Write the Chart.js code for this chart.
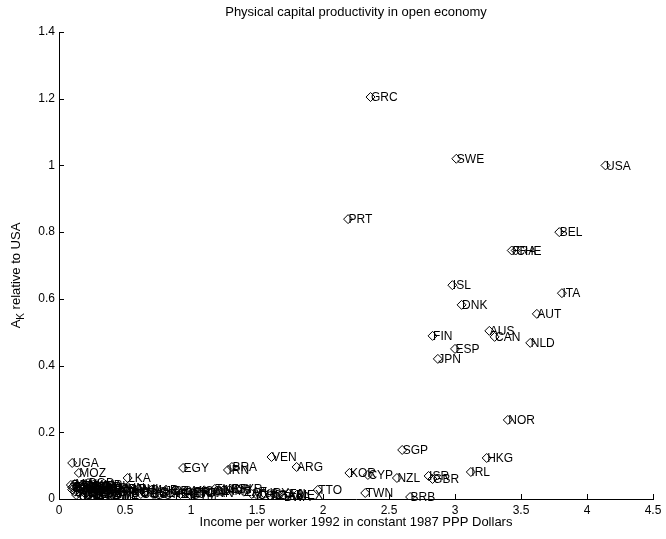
<!DOCTYPE html>
<html>
<head>
<meta charset="utf-8">
<script src="https://cdn.jsdelivr.net/npm/chart.js@4/dist/chart.umd.min.js"></script>
<style>
  html, body { margin: 0; padding: 0; background: #fff; }
  #wrap { width: 666px; height: 539px; }
</style>
</head>
<body>
<div id="wrap"><canvas id="c" width="666" height="539"></canvas></div>
<script>
// Country codes, income per worker (1992, thousands of 1987 PPP dollars scaled) and A_K relative to USA
const countries = [
  "USA","GRC","SWE","PRT","BEL","FRA","CHE","ITA","ISL","DNK",
  "AUT","AUS","CAN","NLD","FIN","ESP","JPN","NOR","SGP","HKG",
  "IRL","ISR","GBR","NZL","CYP","KOR","TWN","BRB","TTO","ARG",
  "VEN","BRA","IRN","EGY","UGA","MOZ","LKA",
  "ETH","BDI","TZA","MWI","BFA","MLI","NER","TCD","RWA","ZAR",
  "MDG","NPL","BGD","GMB","SLE","TGO","CAF","GNB","KEN","BEN",
  "MMR","HTI","NGA","GHA","LSO","IND","ZMB","PAK","SEN","CMR",
  "ZWE","CIV","CHN","GIN","PNG","IDN","BOL","HND","PHL","COG",
  "NIC","MAR","GUY","SLV","JOR","THA","DOM","ECU","PER","GTM",
  "PRY","TUN","COL","PAN","TUR","JAM","MUS","CRI","SYR","ZAF",
  "MYS","CHL","URY","DZA","GAB","BWA","FJI","MEX"
];
const income = [
  4.14, 2.36, 3.01, 2.19, 3.79, 3.43, 3.46, 3.81, 2.98, 3.05,
  3.62, 3.26, 3.30, 3.57, 2.83, 3.00, 2.87, 3.40, 2.60, 3.24,
  3.12, 2.80, 2.83, 2.56, 2.34, 2.20, 2.32, 2.66, 1.96, 1.80,
  1.61, 1.31, 1.28, 0.94, 0.10, 0.15, 0.52,
  0.10, 0.09, 0.10, 0.12, 0.12, 0.14, 0.15, 0.13, 0.17, 0.11,
  0.19, 0.17, 0.22, 0.21, 0.20, 0.19, 0.22, 0.18, 0.24, 0.23,
  0.26, 0.28, 0.27, 0.30, 0.29, 0.32, 0.31, 0.36, 0.35, 0.38,
  0.40, 0.42, 0.45, 0.43, 0.48, 0.50, 0.55, 0.56, 0.60, 0.62,
  0.66, 0.70, 0.72, 0.76, 0.80, 0.84, 0.87, 0.92, 0.95, 0.99,
  1.02, 1.06, 1.10, 1.14, 1.18, 1.22, 1.25, 1.30, 1.35, 1.40,
  1.46, 1.50, 1.55, 1.60, 1.66, 1.70, 1.74, 1.80
];
const productivity = [
  1.000, 1.205, 1.020, 0.839, 0.800, 0.745, 0.745, 0.617, 0.641, 0.582,
  0.555, 0.504, 0.486, 0.468, 0.489, 0.450, 0.420, 0.237, 0.147, 0.123,
  0.081, 0.069, 0.060, 0.063, 0.072, 0.078, 0.018, 0.006, 0.027, 0.096,
  0.126, 0.096, 0.087, 0.093, 0.108, 0.078, 0.063,
  0.035, 0.042, 0.028, 0.045, 0.022, 0.030, 0.018, 0.012, 0.040, 0.038,
  0.025, 0.033, 0.048, 0.020, 0.015, 0.041, 0.030, 0.010, 0.036, 0.022,
  0.043, 0.028, 0.016, 0.034, 0.012, 0.038, 0.023, 0.040, 0.020, 0.030,
  0.014, 0.027, 0.035, 0.010, 0.022, 0.031, 0.018, 0.028, 0.030, 0.015,
  0.022, 0.027, 0.012, 0.018, 0.024, 0.016, 0.025, 0.015, 0.020, 0.014,
  0.022, 0.018, 0.026, 0.020, 0.030, 0.024, 0.028, 0.031, 0.030, 0.022,
  0.015, 0.012, 0.018, 0.010, 0.014, 0.008, 0.016, 0.012
];
const xTicks = [0, 0.5, 1, 1.5, 2, 2.5, 3, 3.5, 4, 4.5];
const yTicks = [0, 0.2, 0.4, 0.6, 0.8, 1, 1.2, 1.4];

const titleText = "Physical capital productivity in open economy";
const xTitleText = "Income per worker 1992 in constant 1987 PPP Dollars";
const FONT = '"Liberation Sans", Arial, Helvetica, sans-serif';

// Country code written from each diamond marker's centre
const pointLabels = {
  id: 'pointLabels',
  afterDatasetsDraw(chart) {
    const ctx = chart.ctx;
    const meta = chart.getDatasetMeta(0);
    ctx.save();
    ctx.font = '12px ' + FONT;
    ctx.fillStyle = '#000';
    ctx.textAlign = 'left';
    ctx.textBaseline = 'middle';
    meta.data.forEach((el, i) => {
      ctx.fillText(countries[i], el.x + 0.5, el.y + 1);
    });
    ctx.restore();
  }
};

// Inward tick marks, title and the y-axis label with subscript
const decorations = {
  id: 'decorations',
  afterDraw(chart) {
    const ctx = chart.ctx;
    const a = chart.chartArea;
    const xs = chart.scales.x, ys = chart.scales.y;
    ctx.save();
    ctx.strokeStyle = '#000';
    ctx.lineWidth = 1;
    ctx.beginPath();
    xTicks.forEach(v => {
      const px = Math.round(xs.getPixelForValue(v)) + 0.5;
      ctx.moveTo(px, a.bottom);
      ctx.lineTo(px, a.bottom - 5);
    });
    yTicks.forEach(v => {
      const py = Math.round(ys.getPixelForValue(v)) + 0.5;
      ctx.moveTo(a.left, py);
      ctx.lineTo(a.left + 5, py);
    });
    ctx.stroke();

    ctx.fillStyle = '#000';
    ctx.font = '13px ' + FONT;
    ctx.textAlign = 'center';
    ctx.textBaseline = 'middle';
    ctx.fillText(titleText, (a.left + a.right) / 2, 12);
    ctx.fillText(xTitleText, (a.left + a.right) / 2, 522);

    // y label: A with subscript K, then the rest
    const big = '13px ' + FONT, small = '10px ' + FONT;
    ctx.font = big;
    const wA = ctx.measureText('A').width;
    const wRest = ctx.measureText(' relative to USA').width;
    ctx.font = small;
    const wK = ctx.measureText('K').width;
    const total = wA + wK + wRest;
    ctx.translate(16, (a.top + a.bottom) / 2 + 10);
    ctx.rotate(-Math.PI / 2);
    ctx.textAlign = 'left';
    ctx.textBaseline = 'middle';
    let x0 = -total / 2;
    ctx.font = big;
    ctx.fillText('A', x0, 0);
    x0 += wA;
    ctx.font = small;
    ctx.fillText('K', x0, 5);
    x0 += wK;
    ctx.font = big;
    ctx.fillText(' relative to USA', x0, 0);
    ctx.restore();
  }
};

new Chart(document.getElementById('c'), {
  type: 'scatter',
  data: {
    datasets: [{
      data: income.map((x, i) => ({ x: x, y: productivity[i] })),
      pointStyle: 'rectRot',
      radius: 4.5,
      hoverRadius: 4.5,
      backgroundColor: 'rgba(0,0,0,0)',
      borderColor: '#000',
      borderWidth: 1
    }]
  },
  options: {
    responsive: false,
    devicePixelRatio: 1,
    animation: false,
    events: [],
    layout: { padding: { top: 32, right: 13, left: 0, bottom: 0 } },
    plugins: { legend: { display: false }, title: { display: false }, tooltip: { enabled: false } },
    scales: {
      x: {
        type: 'linear',
        min: 0, max: 4.5,
        afterBuildTicks: s => { s.ticks = xTicks.map(v => ({ value: v })); },
        afterFit: s => { s.height = 40; },
        grid: { display: false, drawTicks: false },
        border: { display: true, color: '#000', width: 1 },
        ticks: { color: '#000', font: { family: FONT, size: 12 }, padding: 4, maxRotation: 0,
                 callback: v => String(v) }
      },
      y: {
        type: 'linear',
        min: 0, max: 1.4,
        afterBuildTicks: s => { s.ticks = yTicks.map(v => ({ value: v })); },
        afterFit: s => { s.width = 59; },
        grid: { display: false, drawTicks: false },
        border: { display: true, color: '#000', width: 1 },
        ticks: { color: '#000', font: { family: FONT, size: 12 }, padding: 4,
                 callback: v => String(Math.round(v * 10) / 10) }
      }
    }
  },
  plugins: [pointLabels, decorations]
});
</script>
</body>
</html>
